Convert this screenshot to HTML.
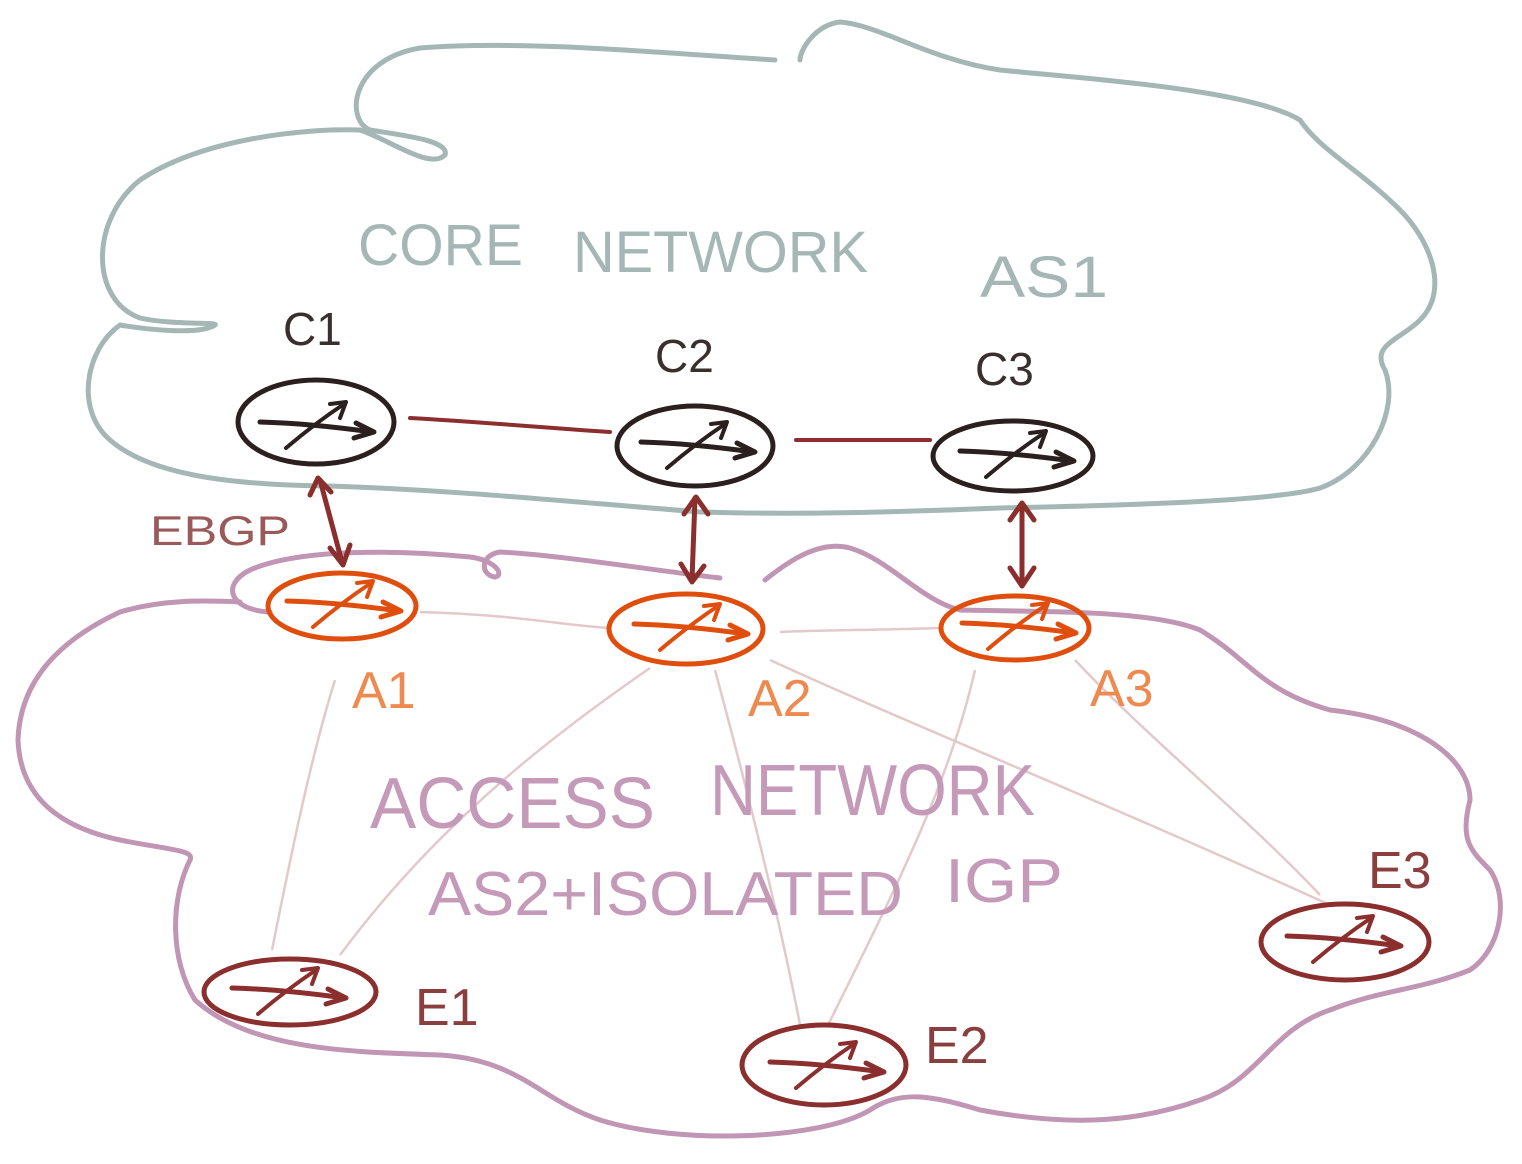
<!DOCTYPE html>
<html><head><meta charset="utf-8"><style>
html,body{margin:0;padding:0;background:#fff;}
svg{display:block;}
text{font-family:"Liberation Sans",sans-serif;font-weight:normal;}
</style></head><body>
<svg width="1522" height="1164" viewBox="0 0 1522 1164" xmlns="http://www.w3.org/2000/svg">
<defs>
<g id="arr">
<path d="M-56,-4 C-20,-3 20,1 56,6" fill="none" stroke-width="5" stroke-linecap="round"/>
<path d="M40,-3 L58,6 L38,12" fill="none" stroke-width="5" stroke-linecap="round" stroke-linejoin="round"/>
<path d="M-30,22 C-10,5 10,-10 28,-22" fill="none" stroke-width="4" stroke-linecap="round"/>
<path d="M14,-22 L30,-24 L24,-8" fill="none" stroke-width="4" stroke-linecap="round" stroke-linejoin="round"/>
</g>
</defs>
<!-- core cloud -->
<path d="M775,60 C650,52 520,40 420,48 C350,60 345,120 370,130 C400,135 450,140 445,155 C430,170 390,140 360,130 C300,128 200,140 140,180 C90,220 90,300 140,318 C170,325 220,322 215,325 C200,335 150,330 120,325 C85,350 75,410 110,440 C150,475 230,485 330,486 C450,490 550,500 700,512 C800,515 900,512 1000,508 C1150,505 1280,500 1320,488 C1370,470 1400,410 1385,370 C1370,345 1400,340 1420,320 C1450,290 1430,240 1400,210 C1360,170 1320,150 1300,120 C1250,90 1100,80 1000,70 C930,60 880,25 840,22 C815,25 800,50 800,60" fill="none" stroke="#a4b7b5" stroke-width="5" stroke-linecap="round"/>
<!-- access cloud -->
<path d="M720,578 C650,570 560,555 500,552 C480,555 480,575 495,577 C505,575 495,560 470,557 C400,550 300,548 250,570 C220,585 230,610 270,612 M765,580 C790,560 820,540 850,548 C890,560 920,600 960,610 C1050,612 1150,610 1200,630 C1250,660 1260,690 1330,710 C1420,720 1470,760 1470,800 C1460,840 1470,850 1490,870 C1510,900 1500,950 1470,970 C1420,990 1380,990 1330,1010 C1270,1030 1260,1080 1200,1100 C1130,1125 1060,1125 980,1110 C930,1095 900,1090 870,1110 C820,1140 680,1145 600,1120 C540,1100 520,1060 440,1055 C350,1052 250,1050 195,1000 C170,960 170,900 190,860 C195,850 170,850 120,840 C50,825 20,790 18,740 C20,680 60,640 120,612 C160,600 200,600 240,602" fill="none" stroke="#c096b4" stroke-width="5" stroke-linecap="round"/>
<!-- light IGP links -->
<g stroke="#e4c9cb" stroke-width="2.5" fill="none">
<path d="M420,612 C520,615 560,625 610,628"/>
<path d="M780,632 C830,630 880,630 940,628"/>
<path d="M335,680 C310,760 290,860 272,950"/>
<path d="M650,668 C560,730 440,820 340,955"/>
<path d="M715,670 C750,800 780,920 800,1025"/>
<path d="M975,670 C950,780 900,880 828,1025"/>
<path d="M770,660 C900,720 1100,800 1330,905"/>
<path d="M1075,660 C1150,740 1250,820 1320,895"/>
</g>
<!-- core links -->
<g stroke="#8b2e2e" stroke-width="4" fill="none" stroke-linecap="round">
<path d="M410,418 C480,422 550,428 610,432"/>
<path d="M796,440 L930,440"/>
</g>
<!-- eBGP arrows -->
<g stroke="#8b2e2e" stroke-width="5" fill="none" stroke-linecap="round" stroke-linejoin="round">
<path d="M320,480 L342,562"/><path d="M310,495 L318,478 L331,492"/><path d="M330,548 L343,565 L350,545"/>
<path d="M695,498 L692,580"/><path d="M684,514 L696,497 L708,514"/><path d="M681,564 L692,582 L704,566"/>
<path d="M1022,504 L1022,584"/><path d="M1010,520 L1022,503 L1034,520"/><path d="M1010,568 L1022,586 L1034,568"/>
</g>
<!-- routers -->
<g fill="none" stroke-width="5">
<ellipse cx="316" cy="422" rx="78" ry="42" stroke="#2b1f1f"/>
<ellipse cx="695" cy="446" rx="78" ry="40" stroke="#2b1f1f"/>
<ellipse cx="1013" cy="456" rx="80" ry="35" stroke="#2b1f1f"/>
<ellipse cx="342" cy="606" rx="74" ry="33" stroke="#e04e0e"/>
<ellipse cx="686" cy="629" rx="77" ry="35" stroke="#e04e0e"/>
<ellipse cx="1015" cy="628" rx="74" ry="32" stroke="#e04e0e"/>
<ellipse cx="290" cy="992" rx="86" ry="33" stroke="#8b2e2e"/>
<ellipse cx="824" cy="1065" rx="82" ry="40" stroke="#8b2e2e"/>
<ellipse cx="1345" cy="942" rx="84" ry="38" stroke="#8b2e2e"/>
</g>
<use href="#arr" x="316" y="426" stroke="#2b1f1f"/>
<use href="#arr" x="697" y="446" stroke="#2b1f1f"/>
<use href="#arr" x="1016" y="455" stroke="#2b1f1f"/>
<use href="#arr" x="343" y="605" stroke="#e04e0e"/>
<use href="#arr" x="690" y="628" stroke="#e04e0e"/>
<use href="#arr" x="1018" y="627" stroke="#e04e0e"/>
<use href="#arr" x="288" y="992" stroke="#8b2e2e"/>
<use href="#arr" x="826" y="1066" stroke="#8b2e2e"/>
<use href="#arr" x="1343" y="940" stroke="#8b2e2e"/>
<!-- labels -->
<g font-size="58" fill="#a4b7b5">
<text x="358" y="265" textLength="165" lengthAdjust="spacingAndGlyphs">CORE</text>
<text x="573" y="272" textLength="295" lengthAdjust="spacingAndGlyphs">NETWORK</text>
<text x="980" y="297" textLength="128" lengthAdjust="spacingAndGlyphs">AS1</text>
</g>
<g font-size="46" fill="#3a2f2f">
<text x="283" y="345">C1</text>
<text x="655" y="372">C2</text>
<text x="975" y="385">C3</text>
</g>
<text x="150" y="545" font-size="42" fill="#9a5a5a" textLength="140" lengthAdjust="spacingAndGlyphs">EBGP</text>
<g font-size="52" fill="#ee8a50">
<text x="352" y="708">A1</text>
<text x="748" y="716">A2</text>
<text x="1090" y="706">A3</text>
</g>
<g font-size="72" fill="#c49ab8">
<text x="370" y="828" textLength="285" lengthAdjust="spacingAndGlyphs">ACCESS</text>
<text x="710" y="815" textLength="325" lengthAdjust="spacingAndGlyphs">NETWORK</text>
<text x="428" y="915" font-size="62" textLength="475" lengthAdjust="spacingAndGlyphs">AS2+ISOLATED</text>
<text x="945" y="902" font-size="62" textLength="118" lengthAdjust="spacingAndGlyphs">IGP</text>
</g>
<g font-size="52" fill="#8b3e3e">
<text x="415" y="1025">E1</text>
<text x="925" y="1063">E2</text>
<text x="1368" y="888">E3</text>
</g>
</svg>
</body></html>
